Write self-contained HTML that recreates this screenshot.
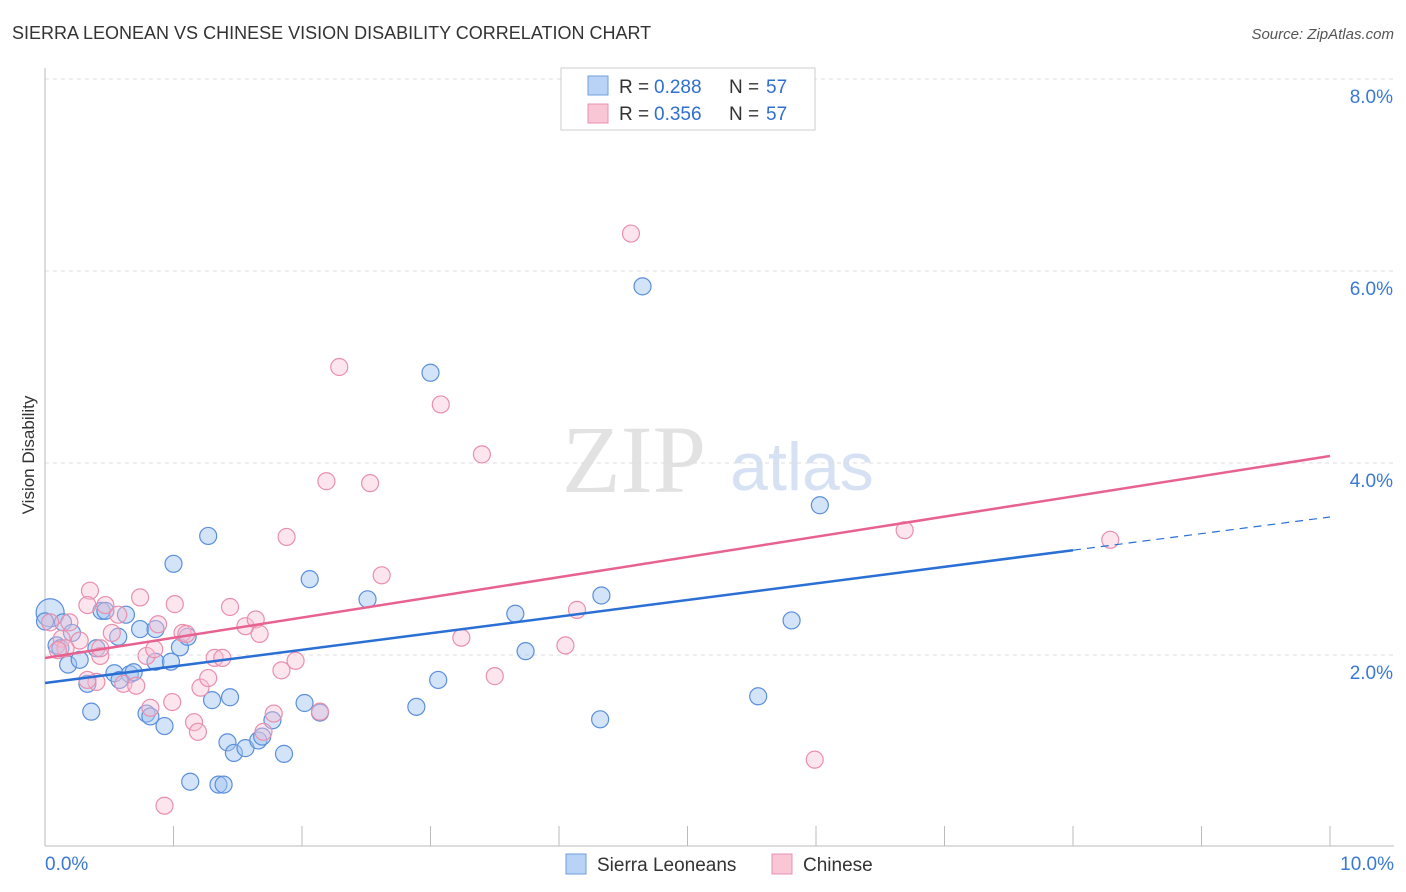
<!DOCTYPE html>
<html><head><meta charset="utf-8"><style>
body{margin:0;background:#fff;font-family:"Liberation Sans",sans-serif;}
svg{display:block}
</style></head><body>
<svg id="chart" width="1406" height="892" xmlns="http://www.w3.org/2000/svg">
<text x="12" y="39" font-size="18" fill="#333">SIERRA LEONEAN VS CHINESE VISION DISABILITY CORRELATION CHART</text>
<text x="1394" y="39" font-size="15" fill="#555" font-style="italic" text-anchor="end">Source: ZipAtlas.com</text>
<text x="634" y="492" font-size="96" fill="#e2e2e2" font-family="Liberation Serif" text-anchor="middle">ZIP</text>
<text x="802" y="490" font-size="68" fill="#d6e2f3" text-anchor="middle">atlas</text>
<text transform="translate(34,455) rotate(-90)" font-size="17" fill="#333" text-anchor="middle">Vision Disability</text>
<g id="grid"></g><g id="axes"></g><g id="pts"></g><g id="trends"></g>
<g>
<rect x="561" y="68" width="254" height="62" fill="#fff" stroke="#ccc"/>
<rect x="588" y="76" width="20" height="19" fill="#b8d3f5" stroke="#6f9fdf"/>
<text y="93" font-size="19" fill="#333"><tspan x="619">R = </tspan><tspan x="654" fill="#2e6fd0">0.288</tspan><tspan x="729">N = </tspan><tspan x="766" fill="#2e6fd0">57</tspan></text>
<rect x="588" y="104" width="20" height="19" fill="#f9c6d6" stroke="#e990ad"/>
<text y="120" font-size="19" fill="#333"><tspan x="619">R = </tspan><tspan x="654" fill="#2e6fd0">0.356</tspan><tspan x="729">N = </tspan><tspan x="766" fill="#2e6fd0">57</tspan></text>
</g>
<g>
<rect x="566" y="854" width="20" height="20" fill="#b8d3f5" stroke="#6f9fdf"/>
<text x="597" y="871" font-size="19" fill="#333">Sierra Leoneans</text>
<rect x="772" y="854" width="20" height="20" fill="#f9c6d6" stroke="#e990ad"/>
<text x="803" y="871" font-size="19" fill="#333">Chinese</text>
</g>
</svg>
<script>
const yTicks=[2,4,6,8];
const yTickLabels=["2.0%","4.0%","6.0%","8.0%"];
const xTicks=[0,1,2,3,4,5,6,7,8,9,10];
const xEndLabels=["0.0%","10.0%"];
const sierraX=[0.04,0.14,0.21,0.09,0.18,0.27,0.40,0.33,0.36,0.44,0.47,0.54,0.57,0.63,0.66,0.69,0.74,0.79,0.82,0.86,0.93,0.98,0.86,1.00,1.05,1.11,1.13,1.27,1.30,1.35,1.39,1.42,1.44,1.47,1.56,1.66,1.69,1.77,1.86,2.02,2.06,2.14,2.51,2.89,3.00,3.06,3.66,3.74,4.32,4.33,4.65,5.55,5.81,6.03,0.0,0.58,0.12];
const sierraY=[2.44,2.34,2.23,2.10,1.90,1.95,2.07,1.70,1.41,2.46,2.46,1.81,2.19,2.42,1.80,1.82,2.27,1.39,1.36,1.93,1.26,1.93,2.27,2.95,2.08,2.19,0.68,3.24,1.53,0.65,0.65,1.09,1.56,0.98,1.03,1.11,1.15,1.32,0.97,1.50,2.79,1.40,2.58,1.46,4.94,1.74,2.43,2.04,1.33,2.62,5.84,1.57,2.36,3.56,2.35,1.74,2.07];
const chinaX=[0.04,0.13,0.19,0.27,0.35,0.33,0.43,0.40,0.47,0.52,0.57,0.61,0.71,0.74,0.79,0.82,0.85,0.88,0.99,1.01,1.07,1.10,1.16,1.19,1.21,1.27,1.32,1.38,1.44,1.56,1.64,1.67,1.70,1.78,1.84,1.88,1.95,2.14,2.19,2.29,2.53,2.62,3.08,3.24,3.40,3.50,4.05,4.14,4.56,5.99,6.69,8.29,0.93,0.33,0.43,0.16,0.10];
const chinaY=[2.34,2.17,2.34,2.15,2.67,2.52,1.99,1.72,2.52,2.23,2.42,1.70,1.68,2.60,1.99,1.45,2.06,2.32,1.51,2.53,2.23,2.22,1.30,1.20,1.66,1.76,1.97,1.97,2.50,2.30,2.37,2.22,1.20,1.39,1.84,3.23,1.94,1.41,3.81,5.00,3.79,2.83,4.61,2.18,4.09,1.78,2.10,2.47,6.39,0.91,3.30,3.20,0.43,1.74,2.07,2.07,2.05];
const sierraTrend=[1.708,3.4375];
const chinaTrend=[1.969,4.073];
const X=v=>45+v*128.5, Y=v=>847-v*96;
const NS="http://www.w3.org/2000/svg";
function mk(t,a,p){const e=document.createElementNS(NS,t);for(const k in a)e.setAttribute(k,a[k]);document.getElementById(p).appendChild(e);return e;}
yTicks.forEach((t,i)=>{
 const l=mk('line',{x1:45,x2:1394,y1:Y(t),y2:Y(t),stroke:'#ddd','stroke-dasharray':'4,4'},'grid');
 
 
 const tx=mk('text',{x:1393,y:Y(t)+24,'font-size':19,fill:'#3a78d6','text-anchor':'end'},'grid');
 tx.textContent=yTickLabels[i];
 
 
});
const ax=mk('line',{x1:45,x2:45,y1:68,y2:846,stroke:'#bbb'},'axes');


const bx=mk('line',{x1:45,x2:1394,y1:846,y2:846,stroke:'#bbb'},'axes');


xTicks.forEach(t=>{if(t===0)return;
 const l=mk('line',{x1:X(t),x2:X(t),y1:826,y2:846,stroke:'#bbb'},'axes');
 
 
});
[[0,'start',45],[10,'end',1394]].forEach((d,i)=>{
 const tx=mk('text',{x:d[2],y:870,'font-size':19,fill:'#3a78d6','text-anchor':d[1]},'axes');
 tx.textContent=xEndLabels[i];
 
 
});
sierraX.forEach((x,i)=>{
 const c=mk('circle',{cx:X(x),cy:Y(sierraY[i]),r:i===0?14:8.5,fill:'rgba(160,196,240,0.45)',stroke:'#5b8fdb','stroke-width':1.2},'pts');
 
 
});
chinaX.forEach((x,i)=>{
 const c=mk('circle',{cx:X(x),cy:Y(chinaY[i]),r:8.5,fill:'rgba(248,190,210,0.4)',stroke:'#e98fae','stroke-width':1.2},'pts');
 
 
});
const sAt=x=>sierraTrend[0]+(sierraTrend[1]-sierraTrend[0])*x/10;
const t1=mk('line',{x1:X(0),y1:Y(sAt(0)),x2:X(8),y2:Y(sAt(8)),stroke:'#2a6fd4','stroke-width':2.5},'trends');


const t2=mk('line',{x1:X(8),y1:Y(sAt(8)),x2:X(10),y2:Y(sAt(10)),stroke:'#2a6fd4','stroke-width':1.2,'stroke-dasharray':'8,6'},'trends');


const t3=mk('line',{x1:X(0),y1:Y(chinaTrend[0]),x2:X(10),y2:Y(chinaTrend[1]),stroke:'#e8628f','stroke-width':2.5},'trends');


</script>
</body></html>
